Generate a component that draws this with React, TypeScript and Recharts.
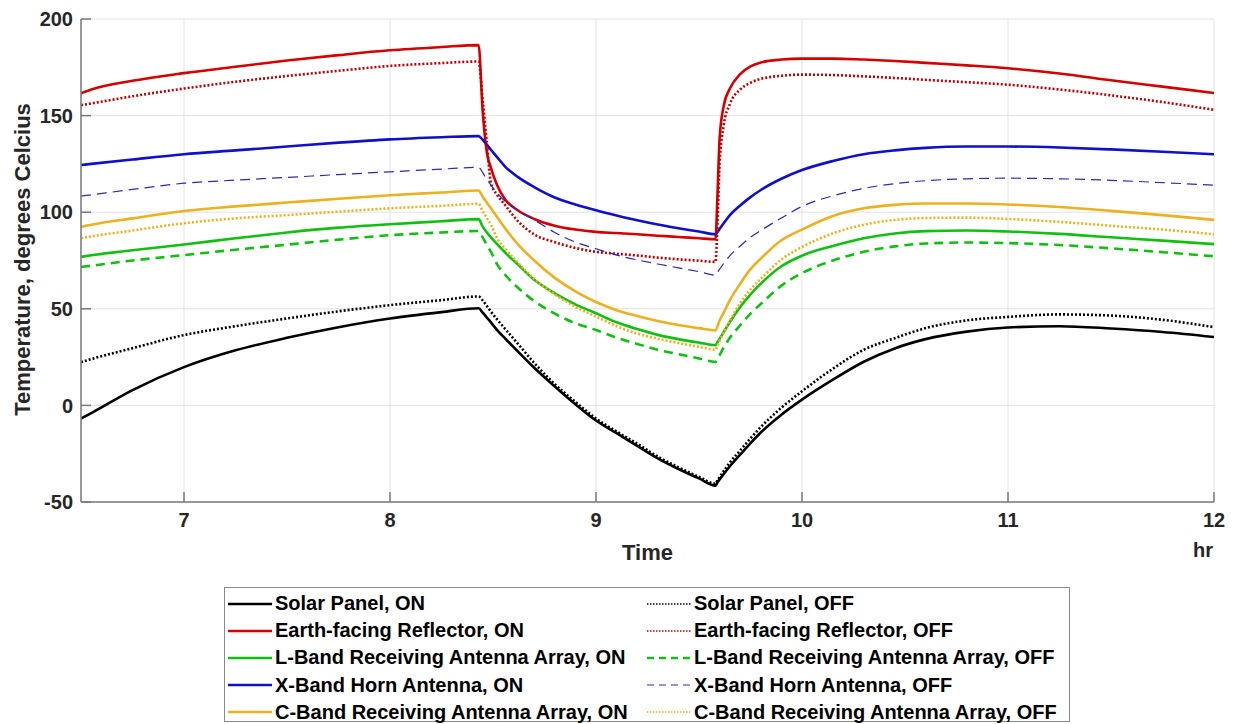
import React from 'react';
import { LineChart, Line, XAxis, YAxis, CartesianGrid, Label } from 'recharts';

// time in hours
const time = [
  6.5, 6.55, 6.75, 7, 7.25, 7.5, 7.75, 8, 8.25,
  8.43, 8.45, 8.47, 8.49, 8.52, 8.56, 8.62, 8.7, 8.8, 8.9,
  9.0, 9.1, 9.2, 9.3, 9.4, 9.5, 9.58,
  9.59, 9.6, 9.62, 9.65, 9.7, 9.75, 9.8, 9.9,
  10.0, 10.15, 10.3, 10.45, 10.6, 10.8,
  11.0, 11.25, 11.5, 11.75, 12.0,
];

const solarPanelOn = [
  -6.8, -4, 7.9, 19.8, 28.5, 35, 40.5, 45, 48.3,
  50.3, 48, 45.5, 43, 39, 34.5, 28, 19.5, 9.8, 0.6,
  -7.8, -14.4, -20.9, -27.4, -32.9, -37.8, -41.5,
  -39.8, -38.3, -35.5, -31.5, -25.5, -19.5, -14, -4.8,
  3, 13.3, 22.6, 29.5, 34.3, 38.2,
  40.3, 41, 39.8, 38, 35.4,
];
const solarPanelOff = [
  22.4, 24, 29.6, 36.4, 41, 45, 48.7, 51.9, 54.5,
  56.4, 54.3, 51.5, 48.5, 44.5, 39.5, 32, 22, 11, 1.8,
  -6.8, -13.5, -19.8, -26.5, -32, -37, -40.5,
  -38.8, -37, -34, -29.5, -23.3, -17, -11.2, -1.2,
  7.3, 19, 28.8, 34.8, 40, 44,
  45.8, 47.1, 46.5, 44.3, 40.5,
];
const reflectorOn = [
  161.5, 163.5, 168, 172, 175.3, 178.5, 181.3, 183.8, 185.5,
  186.5, 152, 131, 123, 114, 106.5, 101, 96.5, 93, 91,
  89.8, 89.2, 88.6, 87.8, 87.2, 86.5, 86,
  110, 138, 155, 164, 171.5, 175.5, 177.5, 179,
  179.5, 179.5, 179, 178.3, 177.3, 176,
  174.5, 171.8, 168.3, 165, 161.7,
];
const reflectorOff = [
  155.4, 156.3, 160, 164, 167.5, 170.5, 173.2, 175.7, 177.2,
  178, 158, 136, 115, 109, 103.5, 95.5, 88.5, 84.5, 81.5,
  79.5, 78.5, 77.6, 76.5, 75.6, 74.9, 74.3,
  95, 125, 145, 156, 163.5, 167, 169, 170.6,
  171.2, 171, 170.3, 169.5, 168.5, 167.3,
  166, 163.5, 160.5, 157, 153,
];
const lBandOn = [
  76.9, 77.7, 80.3, 83.3, 86.5, 89.5, 92, 93.8, 95.3,
  96.4, 92.5, 89.5, 87, 83.5, 79, 73, 65, 58, 52.3,
  47.7, 43, 39.5, 36.5, 34.3, 32.5, 31.2,
  32.8, 34.5, 38, 43.2, 51, 57.5, 63, 72,
  77.5, 82.5, 86.5, 89, 90.2, 90.5,
  90, 88.8, 87, 85.3, 83.5,
];
const lBandOff = [
  71.6, 72.3, 75, 77.8, 80.6, 83.2, 85.8, 88.1, 89.5,
  90.3, 87, 83, 79.5, 73, 67.5, 61, 54, 47.5, 42.5,
  39, 35, 31.8, 28.8, 26.5, 24.3, 22.5,
  24, 26, 30, 35, 41.5, 47.5, 52.5, 62,
  68.5, 75, 79.5, 82.3, 83.8, 84.3,
  84, 83, 81.3, 79.3, 77.2,
];
const xBandOn = [
  124.4, 125, 127.3, 130, 132, 134, 136, 137.7, 138.8,
  139.4, 137.5, 135, 132.3, 128.5, 123.5, 118.3, 113, 107.6, 104,
  101, 98.3, 95.8, 93.6, 91.7, 90, 88.6,
  89.8, 91.3, 94.3, 98.5, 103.5, 107.8, 111.5, 117.3,
  121.8, 126.5, 130, 132, 133.3, 134,
  134, 133.5, 132.5, 131.3, 130,
];
const xBandOff = [
  108.3, 109, 111.8, 115, 116.6, 118, 119.5, 120.9, 122.3,
  123.2, 120.5, 117, 114, 110, 105.5, 101, 96, 89.5, 84.5,
  81.1, 77.8, 75.3, 73.2, 71.2, 69.2, 67.4,
  69, 70.5, 73.5, 77.5, 82.5, 87, 90.5, 97,
  103, 108.5, 112.3, 114.8, 116.3, 117.3,
  117.6, 117.3, 116.5, 115.3, 114,
];
const cBandOn = [
  92.4, 93.5, 96.8, 100.6, 103, 105, 107, 108.8, 110.2,
  111.2, 108, 105, 102, 97.5, 91.5, 83.5, 75, 66, 59,
  53.5, 49.3, 46.3, 43.7, 41.6, 40, 38.8,
  41, 44, 48, 54.5, 63, 70.5, 76, 85.5,
  91, 98, 102, 103.8, 104.5, 104.5,
  104, 102.7, 100.7, 98.5, 96,
];
const cBandOff = [
  86.6, 87.5, 90.5, 94.3, 96.8, 98.5, 100.3, 102, 103.3,
  104.3, 100.5, 97, 93.5, 86.5, 81, 74, 65.5, 57.5, 51,
  46, 41, 37.2, 34.5, 32.3, 30.3, 28.8,
  31, 33.5, 38, 44, 53, 60, 65.5, 75.5,
  82, 89, 93.5, 96, 97, 97.2,
  96.5, 95, 93, 91, 88.6,
];

const xTicks = [7, 8, 9, 10, 11, 12];
const yTicks = [-50, 0, 50, 100, 150, 200];

const FONT = "'Liberation Sans', Arial, Helvetica, sans-serif";

type Series = {
  key: string;
  name: string;
  values: number[];
  color: string;
  width: number;
  dash?: string;
  legendWidth: number;
  legendDash?: string;
};

const onSeries: Series[] = [
  { key: 'solarOn', name: 'Solar Panel, ON', values: solarPanelOn, color: '#000000', width: 2.6, legendWidth: 2.6 },
  { key: 'reflOn', name: 'Earth-facing Reflector, ON', values: reflectorOn, color: '#D40000', width: 2.6, legendWidth: 2.6 },
  { key: 'lOn', name: 'L-Band Receiving Antenna Array, ON', values: lBandOn, color: '#10C010', width: 2.6, legendWidth: 2.6 },
  { key: 'xOn', name: 'X-Band Horn Antenna, ON', values: xBandOn, color: '#1010C8', width: 2.6, legendWidth: 2.6 },
  { key: 'cOn', name: 'C-Band Receiving Antenna Array, ON', values: cBandOn, color: '#EDB120', width: 2.6, legendWidth: 2.6 },
];
const offSeries: Series[] = [
  { key: 'solarOff', name: 'Solar Panel, OFF', values: solarPanelOff, color: '#000000', width: 2.6, dash: '2 2', legendWidth: 1.3, legendDash: '1.5 1.5' },
  { key: 'reflOff', name: 'Earth-facing Reflector, OFF', values: reflectorOff, color: '#C00000', width: 2.6, dash: '2 2', legendWidth: 1.3, legendDash: '1.5 1.5' },
  { key: 'lOff', name: 'L-Band Receiving Antenna Array, OFF', values: lBandOff, color: '#10C010', width: 2.6, dash: '9 6', legendWidth: 2.6, legendDash: '7 5' },
  { key: 'xOff', name: 'X-Band Horn Antenna, OFF', values: xBandOff, color: '#2A2AB8', width: 1.2, dash: '10 6', legendWidth: 1.2, legendDash: '7 5' },
  { key: 'cOff', name: 'C-Band Receiving Antenna Array, OFF', values: cBandOff, color: '#EDB120', width: 2.6, dash: '2 2', legendWidth: 1.3, legendDash: '1.5 1.5' },
];
const allSeries = [...onSeries, ...offSeries];

const data = time.map((t, i) => {
  const row: Record<string, number> = { t };
  allSeries.forEach((s) => {
    row[s.key] = s.values[i];
  });
  return row;
});

const frameColor = '#7a7a7a';
const tickStyle = { fill: '#262626', fontSize: 20, fontWeight: 700, fontFamily: FONT };

function LegendRow({ s, left, top }: { s: Series; left: number; top: number }) {
  return (
    <div style={{ position: 'absolute', left, top, height: 27, display: 'flex', alignItems: 'center' }}>
      <svg width={44} height={10} style={{ display: 'block' }}>
        <line x1={0} y1={5} x2={44} y2={5} stroke={s.color} strokeWidth={s.legendWidth} strokeDasharray={s.legendDash} />
      </svg>
      <span style={{ marginLeft: 3, fontFamily: FONT, fontWeight: 700, fontSize: 20, color: '#000', whiteSpace: 'nowrap', lineHeight: '27px' }}>
        {s.name}
      </span>
    </div>
  );
}

export default function App() {
  return (
    <div style={{ position: 'absolute', left: 0, top: 0, width: 1233, height: 724, background: '#fff', overflow: 'hidden' }}>
      <LineChart width={1233} height={724} data={data} margin={{ top: 19, right: 19, bottom: 0, left: 0 }}>
        <CartesianGrid stroke="#e2e2e2" strokeWidth={1} />
        <XAxis
          dataKey="t"
          type="number"
          domain={[6.5, 12]}
          ticks={xTicks}
          allowDataOverflow
          height={222}
          tickSize={-10}
          tickMargin={21}
          stroke={frameColor}
          axisLine={{ stroke: frameColor, strokeWidth: 1.5 }}
          tickLine={{ stroke: frameColor, strokeWidth: 1.5 }}
          tick={tickStyle}
        >
          <Label
            content={(props: any) => {
              const vb = props.viewBox || { x: 81, y: 502, width: 1133 };
              return (
                <g>
                  <text x={vb.x + vb.width / 2} y={vb.y + 58} textAnchor="middle" fill="#262626" fontSize={22} fontWeight={700} fontFamily={FONT}>
                    Time
                  </text>
                  <text x={vb.x + vb.width - 1} y={vb.y + 55} textAnchor="end" fill="#262626" fontSize={20} fontWeight={700} fontFamily={FONT}>
                    hr
                  </text>
                </g>
              );
            }}
          />
        </XAxis>
        <XAxis
          xAxisId="top"
          orientation="top"
          dataKey="t"
          type="number"
          domain={[6.5, 12]}
          ticks={xTicks}
          allowDataOverflow
          height={0}
          tickSize={-10}
          tick={false}
          axisLine={{ stroke: frameColor, strokeWidth: 1.5 }}
          tickLine={{ stroke: frameColor, strokeWidth: 1.5 }}
        />
        <YAxis
          type="number"
          domain={[-50, 200]}
          ticks={yTicks}
          allowDataOverflow
          width={81}
          tickSize={-10}
          tickMargin={18}
          axisLine={{ stroke: frameColor, strokeWidth: 1.5 }}
          tickLine={{ stroke: frameColor, strokeWidth: 1.5 }}
          tick={tickStyle}
        >
          <Label
            content={(props: any) => {
              const vb = props.viewBox || { x: 0, y: 19, width: 81, height: 483 };
              const cx = vb.x + 30;
              const cy = vb.y + vb.height / 2 - 1;
              return (
                <text x={cx} y={cy} transform={`rotate(-90 ${cx} ${cy})`} textAnchor="middle" fill="#262626" fontSize={22} fontWeight={700} fontFamily={FONT}>
                  Temperature, degrees Celcius
                </text>
              );
            }}
          />
        </YAxis>
        <YAxis
          yAxisId="right"
          orientation="right"
          type="number"
          domain={[-50, 200]}
          ticks={yTicks}
          allowDataOverflow
          width={0}
          tickSize={-10}
          tick={false}
          axisLine={{ stroke: frameColor, strokeWidth: 1.5 }}
          tickLine={{ stroke: frameColor, strokeWidth: 1.5 }}
        />
        {allSeries.map((s) => (
          <Line
            key={s.key}
            dataKey={s.key}
            name={s.name}
            type="monotone"
            stroke={s.color}
            strokeWidth={s.width}
            strokeDasharray={s.dash}
            dot={false}
            activeDot={false}
            isAnimationActive={false}
          />
        ))}
      </LineChart>
      <div
        style={{
          position: 'absolute',
          left: 224,
          top: 587,
          width: 846,
          height: 135,
          border: '1.5px solid #8a8a8a',
          background: '#fff',
          boxSizing: 'border-box',
        }}
      >
        {onSeries.map((s, i) => (
          <LegendRow key={s.key} s={s} left={3} top={2 + i * 27.2} />
        ))}
        {offSeries.map((s, i) => (
          <LegendRow key={s.key} s={s} left={422} top={2 + i * 27.2} />
        ))}
      </div>
    </div>
  );
}
